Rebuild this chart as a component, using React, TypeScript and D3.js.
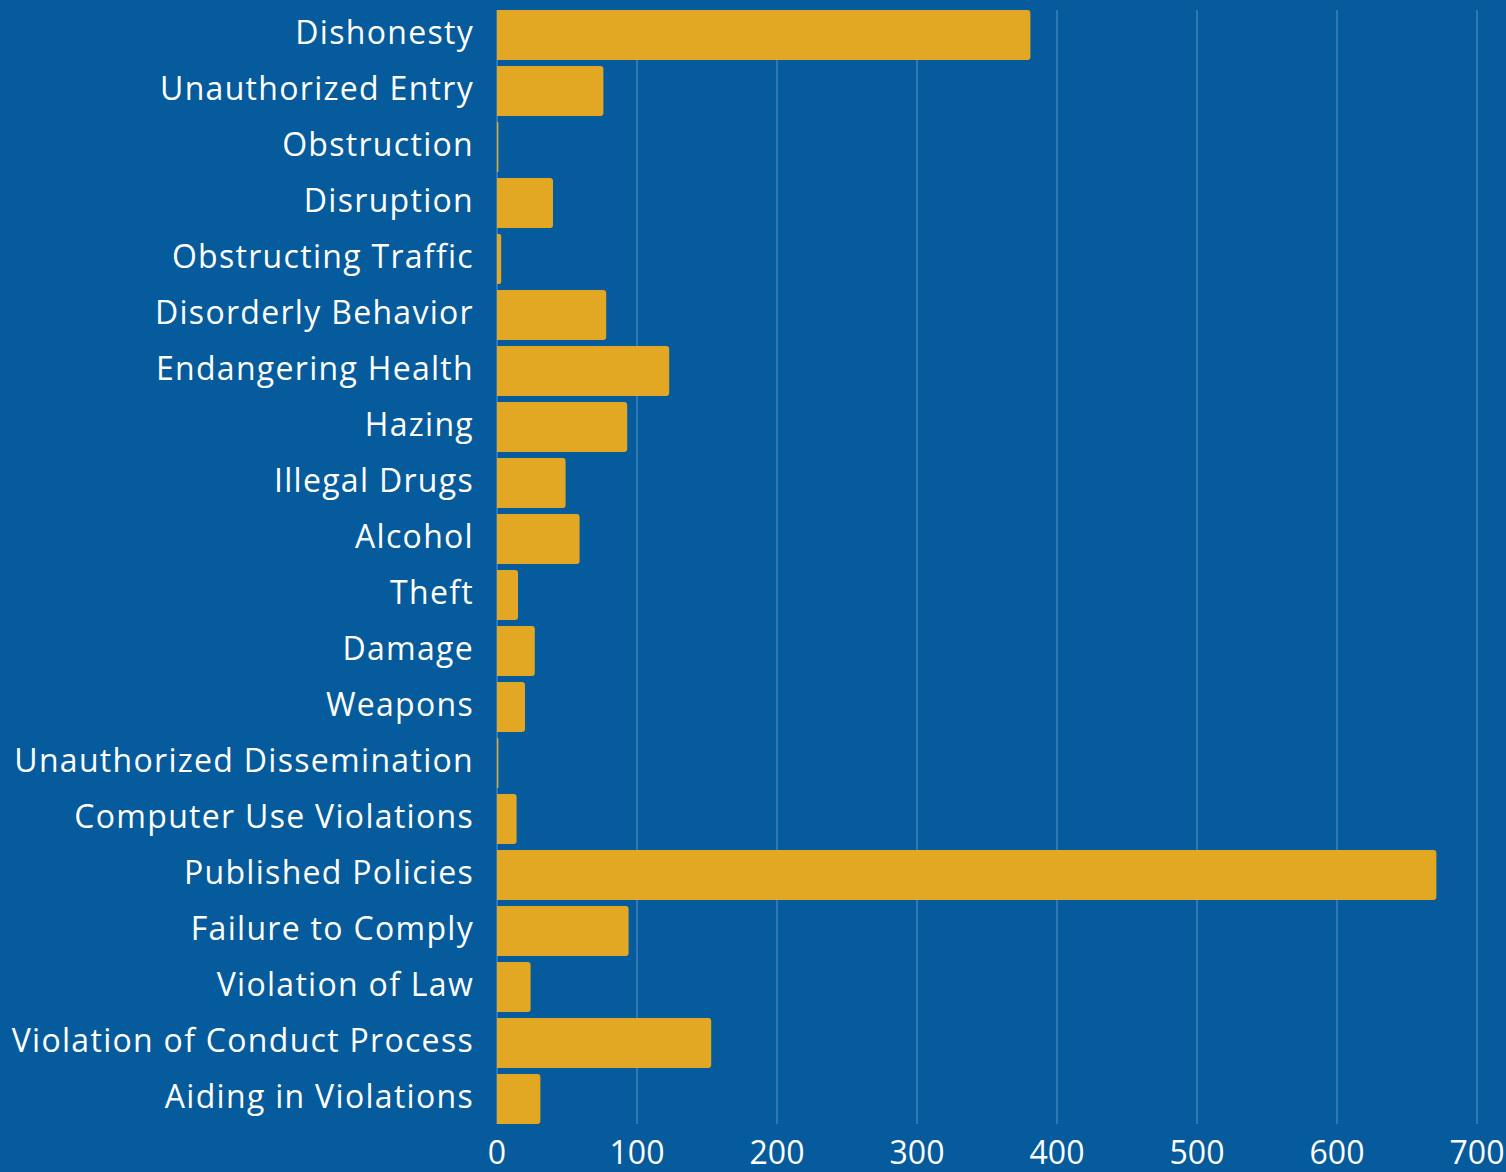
import React, { useRef, useEffect } from "react"
import * as d3 from "d3"

const categories = [
  "Dishonesty", "Unauthorized Entry", "Obstruction", "Disruption", "Obstructing Traffic",
  "Disorderly Behavior", "Endangering Health", "Hazing", "Illegal Drugs", "Alcohol",
  "Theft", "Damage", "Weapons", "Unauthorized Dissemination", "Computer Use Violations",
  "Published Policies", "Failure to Comply", "Violation of Law", "Violation of Conduct Process",
  "Aiding in Violations",
]
const counts = [381, 76, 1, 40, 3, 78, 123, 93, 49, 59, 15, 27, 20, 1, 14, 671, 94, 24, 153, 31]
const xTicks = [0, 100, 200, 300, 400, 500, 600, 700]

const W = 1506
const H = 1172
const BG = "#055b9c"
const BAR = "#e3a823"

const App = () => {
  const ref = useRef(null)

  useEffect(() => {
    document.body.style.margin = "0"
    const svg = d3.select(ref.current)
    svg.selectAll("*").remove()

    const x = d3.scaleLinear().domain([0, 700]).range([497, 1477])
    const y = d3.scaleBand().domain(categories).range([7, 1127])
      .paddingInner(6 / 56).paddingOuter(3 / 56)

    svg.append("rect").attr("width", W).attr("height", H).attr("fill", BG)

    // grid
    svg.append("g").selectAll("line").data(xTicks).enter().append("line")
      .attr("x1", d => x(d)).attr("x2", d => x(d))
      .attr("y1", 10).attr("y2", 1124)
      .attr("stroke", "#3f82bd").attr("stroke-width", 1.5)

    // bars, right corners rounded
    const r = 3
    svg.append("g").selectAll("path").data(categories).enter().append("path")
      .attr("fill", BAR)
      .attr("d", (c, i) => {
        const x0 = x(0), x1 = x(counts[i])
        const y0 = y(c), h = y.bandwidth()
        const rr = Math.min(r, (x1 - x0) / 2)
        return `M${x0},${y0}H${x1 - rr}Q${x1},${y0} ${x1},${y0 + rr}V${y0 + h - rr}Q${x1},${y0 + h} ${x1 - rr},${y0 + h}H${x0}Z`
      })

    // category labels
    svg.append("g").selectAll("text").data(categories).enter().append("text")
      .attr("x", 474).attr("y", c => y(c) + y.bandwidth() / 2 - 2)
      .attr("dy", "0.35em")
      .attr("text-anchor", "end")
      .attr("fill", "#ffffff")
      .style("font-family", "'Open Sans', sans-serif")
      .style("font-size", "32px")
      .style("letter-spacing", "1.3px")
      .text(c => c)

    // tick labels
    svg.append("g").selectAll("text").data(xTicks).enter().append("text")
      .attr("x", d => x(d)).attr("y", 1153)
      .attr("dy", "0.35em")
      .attr("text-anchor", "middle")
      .attr("fill", "#ffffff")
      .style("font-family", "'Open Sans', sans-serif")
      .style("font-size", "32px")
      .text(d => d)
  }, [])

  return (
    <svg ref={ref} width={W} height={H} style={{ display: "block" }}></svg>
  )
}

export default App
